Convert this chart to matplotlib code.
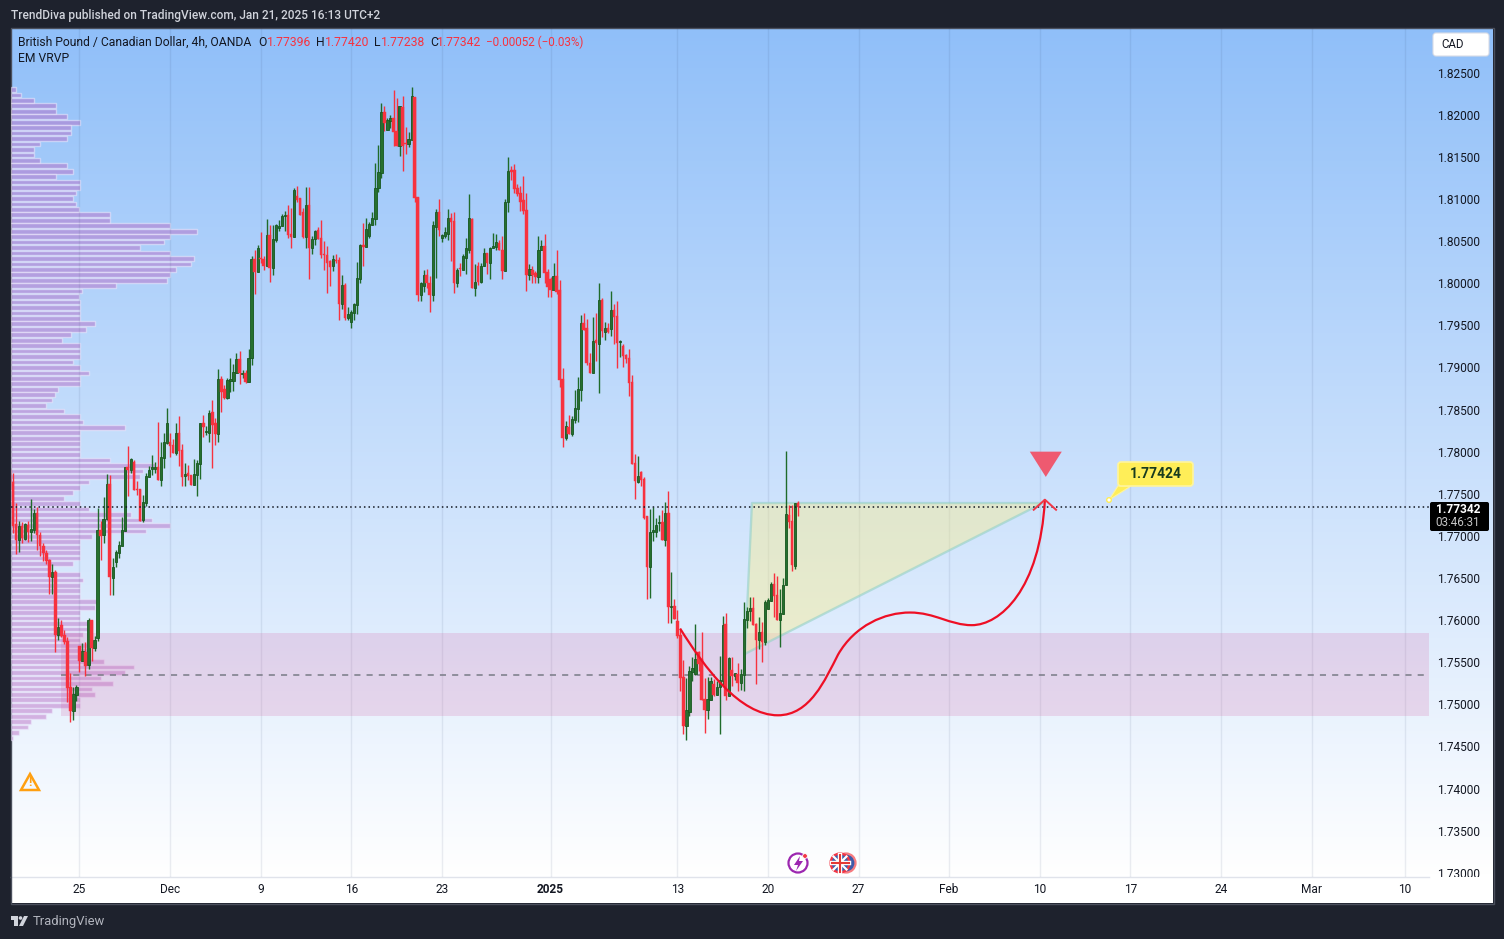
import numpy as np
import matplotlib
matplotlib.use('Agg')
import matplotlib.pyplot as plt
from matplotlib.patches import Rectangle, FancyBboxPatch, Polygon, PathPatch, Circle
from matplotlib.path import Path
from matplotlib.transforms import Bbox

plt.rcParams['font.family'] = ['Roboto', 'DejaVu Sans']

# OHLC of GBP/CAD 4h candles
opens = [
    1.7772,1.7764,1.7714,1.7695,1.7712,1.7696,1.7713,1.7705,1.7707,1.7727,
    1.7701,1.7688,1.7680,1.7671,1.7651,1.7657,1.7582,1.7594,1.7582,1.7575,
    1.7521,1.7492,1.7511,1.7569,1.7551,1.7562,1.7547,1.7600,1.7567,1.7579,
    1.7707,1.7701,1.7720,1.7762,1.7650,1.7669,1.7680,1.7688,1.7706,1.7782,
    1.7778,1.7788,1.7756,1.7756,1.7719,1.7739,1.7770,1.7779,1.7779,1.7782,
    1.7766,1.7792,1.7810,1.7811,1.7808,1.7798,1.7822,1.7802,1.7771,1.7775,
    1.7772,1.7760,1.7772,1.7785,1.7834,1.7823,1.7822,1.7847,1.7834,1.7821,
    1.7886,1.7874,1.7864,1.7884,1.7884,1.7893,1.7910,1.7892,1.7893,1.7883,
    1.7911,1.8029,1.8013,1.8030,1.8029,1.8021,1.8057,1.8018,1.8051,1.8065,
    1.8068,1.8080,1.8081,1.8058,1.8055,1.8103,1.8101,1.8084,1.8055,1.8093,
    1.8042,1.8052,1.8063,1.8054,1.8035,1.8033,1.8026,1.8021,1.8027,1.8027,
    1.7975,1.7998,1.7959,1.7954,1.7965,1.7974,1.8005,1.8045,1.8043,1.8056,
    1.8069,1.8076,1.8113,1.8131,1.8203,1.8182,1.8192,1.8196,1.8181,1.8163,
    1.8209,1.8166,1.8165,1.8170,1.8221,1.8102,1.7986,1.7997,1.8010,1.8000,
    1.7986,1.8067,1.8084,1.8054,1.8056,1.8059,1.8077,1.8074,1.8000,1.8018,
    1.8016,1.8030,1.8040,1.8076,1.7994,1.8020,1.8002,1.8020,1.8036,1.8024,
    1.8042,1.8043,1.8048,1.8039,1.8014,1.8097,1.8134,1.8134,1.8113,1.8107,
    1.8099,1.8087,1.8010,1.8016,1.8012,1.8007,1.8039,1.8044,1.8013,1.8005,
    1.7992,1.8008,1.7992,1.7886,1.7816,1.7829,1.7821,1.7838,1.7851,1.7873,
    1.7953,1.7947,1.7905,1.7893,1.7933,1.7928,1.7980,1.7942,1.7947,1.7946,
    1.7968,1.7961,1.7930,1.7925,1.7915,1.7911,1.7883,1.7787,1.7764,1.7776,
    1.7768,1.7724,1.7663,1.7705,1.7705,1.7715,1.7716,1.7695,1.7727,1.7616,
    1.7617,1.7599,1.7582,1.7533,1.7474,1.7491,1.7538,1.7536,1.7562,1.7554,
    1.7506,1.7493,1.7505,1.7524,1.7511,1.7520,1.7528,1.7595,1.7510,1.7541,
    1.7534,1.7536,1.7525,1.7535,1.7600,1.7611,1.7614,1.7595,1.7576,1.7586,
    1.7574,1.7613,1.7623,1.7643,1.7630,1.7600,1.7607,1.7642,1.7725,1.7718,
    1.7664,1.77396]
highs = [
    1.7779,1.7775,1.7739,1.7718,1.7717,1.7715,1.7718,1.7744,1.7732,1.7734,
    1.7705,1.7692,1.7683,1.7673,1.7667,1.7660,1.7603,1.7600,1.7588,1.7580,
    1.7537,1.7521,1.7523,1.7569,1.7573,1.7574,1.7603,1.7600,1.7581,1.7733,
    1.7718,1.7746,1.7773,1.7772,1.7674,1.7683,1.7694,1.7722,1.7782,1.7807,
    1.7792,1.7790,1.7765,1.7756,1.7748,1.7775,1.7783,1.7796,1.7788,1.7835,
    1.7812,1.7822,1.7852,1.7822,1.7815,1.7834,1.7842,1.7809,1.7787,1.7784,
    1.7772,1.7791,1.7790,1.7834,1.7843,1.7830,1.7849,1.7861,1.7840,1.7898,
    1.7890,1.7879,1.7887,1.7911,1.7904,1.7917,1.7919,1.7897,1.7897,1.7922,
    1.8032,1.8040,1.8045,1.8061,1.8032,1.8076,1.8069,1.8069,1.8070,1.8075,
    1.8082,1.8086,1.8093,1.8089,1.8113,1.8115,1.8101,1.8089,1.8114,1.8114,
    1.8056,1.8063,1.8067,1.8075,1.8050,1.8044,1.8027,1.8033,1.8035,1.8031,
    1.8010,1.8000,1.7972,1.7968,1.7976,1.8025,1.8046,1.8071,1.8077,1.8073,
    1.8084,1.8143,1.8164,1.8214,1.8210,1.8196,1.8200,1.8229,1.8220,1.8210,
    1.8222,1.8185,1.8179,1.8233,1.8221,1.8102,1.8001,1.8016,1.8017,1.8008,
    1.8074,1.8088,1.8100,1.8058,1.8067,1.8088,1.8083,1.8084,1.8018,1.8024,
    1.8035,1.8054,1.8106,1.8077,1.8023,1.8025,1.8024,1.8042,1.8036,1.8043,
    1.8060,1.8058,1.8051,1.8056,1.8100,1.8150,1.8139,1.8141,1.8118,1.8116,
    1.8127,1.8107,1.8023,1.8021,1.8014,1.8056,1.8051,1.8058,1.8017,1.8007,
    1.8024,1.8039,1.8004,1.7899,1.7836,1.7843,1.7842,1.7873,1.7889,1.7962,
    1.7965,1.7957,1.7917,1.7960,1.7965,1.8000,1.7982,1.7954,1.7953,1.7991,
    1.7975,1.7979,1.7933,1.7928,1.7916,1.7922,1.7891,1.7797,1.7795,1.7777,
    1.7770,1.7724,1.7732,1.7734,1.7721,1.7725,1.7731,1.7740,1.7753,1.7657,
    1.7625,1.7612,1.7589,1.7553,1.7531,1.7546,1.7556,1.7595,1.7563,1.7586,
    1.7531,1.7532,1.7532,1.7530,1.7528,1.7557,1.7605,1.7609,1.7556,1.7556,
    1.7537,1.7549,1.7542,1.7622,1.7616,1.7627,1.7627,1.7597,1.7604,1.7598,
    1.7624,1.7626,1.7645,1.7656,1.7652,1.7637,1.7650,1.7801,1.7737,1.7737,
    1.7739,1.77420]
lows = [
    1.7754,1.7703,1.7679,1.7681,1.7692,1.7695,1.7693,1.7694,1.7703,1.7683,
    1.7676,1.7670,1.7667,1.7631,1.7631,1.7562,1.7576,1.7580,1.7572,1.7503,
    1.7479,1.7481,1.7504,1.7538,1.7551,1.7534,1.7542,1.7551,1.7563,1.7575,
    1.7671,1.7692,1.7719,1.7630,1.7630,1.7663,1.7674,1.7688,1.7706,1.7747,
    1.7775,1.7754,1.7749,1.7718,1.7716,1.7735,1.7770,1.7772,1.7775,1.7766,
    1.7759,1.7781,1.7809,1.7794,1.7798,1.7796,1.7783,1.7759,1.7759,1.7766,
    1.7760,1.7760,1.7747,1.7768,1.7817,1.7820,1.7811,1.7781,1.7808,1.7811,
    1.7847,1.7862,1.7862,1.7871,1.7872,1.7893,1.7880,1.7887,1.7881,1.7883,
    1.7903,1.7987,1.8013,1.8024,1.8016,1.8021,1.8002,1.8010,1.8049,1.8062,
    1.8068,1.8062,1.8054,1.8042,1.8055,1.8097,1.8081,1.8054,1.8042,1.8005,
    1.8035,1.8045,1.8052,1.8030,1.8016,1.7988,1.7997,1.8014,1.8024,1.7956,
    1.7969,1.7956,1.7956,1.7947,1.7956,1.7963,1.8000,1.8020,1.8043,1.8054,
    1.8069,1.8069,1.8108,1.8125,1.8181,1.8182,1.8184,1.8163,1.8163,1.8151,
    1.8133,1.8153,1.8162,1.8170,1.8096,1.7979,1.7979,1.7989,1.7994,1.7966,
    1.7979,1.8006,1.8056,1.8049,1.8054,1.8051,1.8026,1.7988,1.7995,1.8008,
    1.8016,1.8011,1.8036,1.7994,1.7985,1.7998,1.8000,1.8020,1.8011,1.8005,
    1.8042,1.8039,1.8039,1.8005,1.8014,1.8084,1.8122,1.8107,1.8103,1.8086,
    1.8082,1.7991,1.8004,1.8000,1.8000,1.8000,1.8039,1.8000,1.7984,1.7984,
    1.7992,1.7987,1.7877,1.7806,1.7814,1.7821,1.7819,1.7834,1.7835,1.7860,
    1.7944,1.7903,1.7893,1.7893,1.7908,1.7870,1.7936,1.7933,1.7941,1.7937,
    1.7928,1.7899,1.7912,1.7900,1.7905,1.7866,1.7785,1.7744,1.7763,1.7759,
    1.7720,1.7625,1.7626,1.7694,1.7699,1.7706,1.7695,1.7688,1.7597,1.7597,
    1.7601,1.7579,1.7516,1.7465,1.7458,1.7486,1.7528,1.7535,1.7540,1.7505,
    1.7466,1.7483,1.7505,1.7510,1.7511,1.7465,1.7523,1.7505,1.7510,1.7522,
    1.7529,1.7516,1.7517,1.7516,1.7591,1.7599,1.7594,1.7524,1.7566,1.7550,
    1.7571,1.7613,1.7623,1.7604,1.7600,1.7568,1.7607,1.7642,1.7709,1.7658,
    1.7661,1.77238]
closes = [
    1.7764,1.7712,1.7695,1.7712,1.7697,1.7714,1.7705,1.7708,1.7727,1.7701,
    1.7688,1.7680,1.7670,1.7651,1.7657,1.7582,1.7592,1.7581,1.7574,1.7519,
    1.7492,1.7512,1.7521,1.7551,1.7563,1.7546,1.7600,1.7567,1.7576,1.7707,
    1.7700,1.7720,1.7762,1.7651,1.7663,1.7681,1.7689,1.7707,1.7782,1.7778,
    1.7791,1.7754,1.7754,1.7718,1.7740,1.7771,1.7778,1.7782,1.7782,1.7766,
    1.7794,1.7811,1.7834,1.7807,1.7798,1.7822,1.7801,1.7770,1.7773,1.7771,
    1.7760,1.7773,1.7786,1.7834,1.7829,1.7824,1.7846,1.7832,1.7821,1.7886,
    1.7871,1.7864,1.7885,1.7886,1.7895,1.7910,1.7893,1.7893,1.7883,1.7911,
    1.8029,1.8013,1.8042,1.8029,1.8021,1.8057,1.8018,1.8052,1.8069,1.8068,
    1.8080,1.8081,1.8057,1.8055,1.8111,1.8099,1.8081,1.8055,1.8093,1.8042,
    1.8052,1.8062,1.8052,1.8033,1.8033,1.8024,1.8019,1.8029,1.8026,1.7975,
    1.7998,1.7959,1.7963,1.7966,1.7975,1.8006,1.8045,1.8043,1.8064,1.8070,
    1.8077,1.8113,1.8132,1.8203,1.8190,1.8194,1.8196,1.8179,1.8163,1.8210,
    1.8163,1.8165,1.8171,1.8222,1.8101,1.7986,1.8000,1.8010,1.8000,1.7986,
    1.8069,1.8084,1.8063,1.8057,1.8061,1.8077,1.8073,1.8000,1.8016,1.8017,
    1.8032,1.8042,1.8077,1.7994,1.8002,1.8002,1.8021,1.8036,1.8024,1.8042,
    1.8044,1.8049,1.8039,1.8014,1.8097,1.8133,1.8132,1.8112,1.8106,1.8097,
    1.8086,1.8010,1.8017,1.8010,1.8007,1.8040,1.8044,1.8012,1.7995,1.7992,
    1.8008,1.7989,1.7885,1.7816,1.7830,1.7821,1.7839,1.7852,1.7874,1.7953,
    1.7944,1.7905,1.7893,1.7931,1.7929,1.7980,1.7943,1.7947,1.7942,1.7968,
    1.7960,1.7929,1.7931,1.7913,1.7910,1.7881,1.7785,1.7765,1.7771,1.7766,
    1.7721,1.7663,1.7705,1.7707,1.7713,1.7716,1.7695,1.7727,1.7616,1.7617,
    1.7601,1.7581,1.7531,1.7474,1.7493,1.7540,1.7543,1.7554,1.7548,1.7505,
    1.7493,1.7506,1.7528,1.7511,1.7521,1.7529,1.7594,1.7510,1.7555,1.7534,
    1.7537,1.7525,1.7536,1.7601,1.7611,1.7614,1.7594,1.7576,1.7586,1.7574,
    1.7622,1.7624,1.7643,1.7629,1.7600,1.7609,1.7642,1.7726,1.7716,1.7665,
    1.7739,1.77342]

# visible range volume profile, one value per price row, top row first
profile_top = 1.8230
profile_step = 0.000647
profile_volume = [
    5,10,23,45,45,56,69,60,60,56,29,23,23,29,56,62,45,69,69,65,
    62,65,68,99,99,159,186,159,153,129,159,183,180,165,159,156,105,71,68,
    69,69,69,69,84,75,60,51,69,69,69,62,69,78,69,69,47,44,41,35,53,69,72,114,
    69,69,69,69,69,99,144,132,129,78,69,62,53,69,78,120,141,159,135,81,69,69,
    69,69,62,40,69,72,69,69,69,86,84,69,69,78,81,72,69,78,78,78,93,123,114,90,
    102,81,84,69,69,41,35,20,17,8,2]

date_pos = [23, 53, 83, 113, 143, 179, 221, 251, 281, 311, 341, 371, 401, 431, 462]
date_labels = ['25', 'Dec', '9', '16', '23', '2025', '13', '20', '27', 'Feb', '10', '17', '24', 'Mar', '10']
price_ticks = [1.73, 1.735, 1.74, 1.745, 1.75, 1.755, 1.76, 1.765, 1.77, 1.775,
               1.78, 1.785, 1.79, 1.795, 1.80, 1.805, 1.81, 1.815, 1.82, 1.825]

last_price = 1.77342
zone_low, zone_high, zone_mid = 1.7486, 1.7585, 1.7535
zone_start = 16.9

# drawn annotations, in bar number and price
wedge_x = [243.4, 245.7, 342.0]
wedge_y = [1.7560, 1.7739, 1.7739]
curve_x = [221.9, 230.1, 241.7, 254.3, 264.9, 269.9, 274.2, 279.8, 289.7, 298.0,
           306.3, 311.3, 318.5, 327.8, 341.1, 342.7]
curve_y = [1.7590, 1.7543, 1.7487, 1.7487, 1.7487, 1.7529, 1.7559, 1.7594, 1.7609, 1.7609,
           1.7609, 1.7594, 1.7594, 1.7594, 1.7636, 1.7743]
arrow_x = [339.0, 342.7, 346.4]
arrow_y = [1.7731, 1.7743, 1.7731]
marker_x = [337.7, 348.3, 343.0]
marker_y = [1.7800, 1.7800, 1.7770]

RED = '#F7323F'
GREEN = '#1F6B2A'
DARK = '#1E222D'
W, H = 1504, 939

fig = plt.figure(figsize=(W / 100, H / 100), dpi=100, facecolor=DARK)

# page layer: frame, gradient and time scale strip (pixel coordinates)
bg = fig.add_axes([0, 0, 1, 1], zorder=0)
bg.set_xlim(0, W)
bg.set_ylim(H, 0)
bg.axis('off')
grad = np.linspace(0, 1, 256).reshape(-1, 1, 1)
top = np.array([0x90, 0xBF, 0xF9]) / 255
bottom = np.array([1.0, 1.0, 1.0])
bg.imshow(top + (bottom - top) * grad, extent=(11, 1493, 877, 28), aspect='auto', zorder=0)
bg.set_xlim(0, W)
bg.set_ylim(H, 0)
bg.add_patch(Rectangle((11, 877), 1482, 26, fc='white', ec='none', zorder=1))
bg.plot([11, 1429], [877, 877], color='#E0E3EB', lw=1, zorder=2)
bg.add_patch(Rectangle((10.5, 27.5), 1483, 876, fc='none', ec='#4A4F5C', lw=1, zorder=3))

# profile and zone sit under the candles on a twin sharing the price scale
ax = fig.add_axes([11 / W, 1 - 877 / H, 1418 / W, 849 / H], zorder=2)
ax.patch.set_alpha(0)
ax.set_xlim(0.33, 469.9)
ax.set_ylim(1.7295, 1.8303)

ax2 = fig.add_axes(ax.get_position(), zorder=1)
ax2.patch.set_alpha(0)
ax2.set_xlim(0, 1418)
ax2.set_ylim(ax.get_ylim())
ax2.axis('off')
levels = profile_top - profile_step * np.arange(len(profile_volume))
ax2.barh(levels, profile_volume, height=profile_step * 0.86, left=0,
         color=(0.72, 0.40, 0.76, 0.46), edgecolor=(0.93, 0.93, 1.0, 0.55), linewidth=1.0)

ax.axhspan(zone_low, zone_high, xmin=(zone_start - 0.33) / (469.9 - 0.33), color=(0.84, 0.42, 0.66, 0.21), lw=0, zorder=1)
ax.plot([zone_start, 469.9], [zone_mid, zone_mid], color='#787B86', lw=1.1, ls=(0, (4, 4)), zorder=2)

for d in date_pos:
    ax.axvline(d, color=(0.16, 0.23, 0.40, 0.09), lw=1, zorder=0)

ax.fill(wedge_x, wedge_y, facecolor=(0.98, 0.93, 0.55, 0.42), edgecolor='none', zorder=2)
ax.plot(wedge_x + wedge_x[:1], wedge_y + wedge_y[:1], color=(0.58, 0.82, 0.78, 0.6), lw=1.7, zorder=2)

# candles
bars = np.arange(len(opens))
o = np.array(opens)
h = np.array(highs)
l = np.array(lows)
c = np.array(closes)
up = c >= o
colors = np.where(up, GREEN, RED)
ax.vlines(bars, l, h, colors=colors, lw=1, zorder=3)
ax.bar(bars[up], np.maximum(c - o, 0.00012)[up], bottom=o[up], width=0.74,
       color='#26702F', edgecolor='#17571F', linewidth=0.6, zorder=4)
ax.bar(bars[~up], np.maximum(o - c, 0.00012)[~up], bottom=c[~up], width=0.85,
       color=RED, edgecolor=RED, linewidth=0.3, zorder=4)

ax.axhline(last_price, color='#131722', lw=1.1, ls=(0, (1, 2)), zorder=5)

# curved path
verts = list(zip(curve_x, curve_y))
codes = [Path.MOVETO] + [Path.CURVE4] * (len(verts) - 1)
ax.add_patch(PathPatch(Path(verts, codes), fc='none', ec='#EE0F25', lw=1.6, zorder=6))
ax.plot(arrow_x, arrow_y, color='#F23645', lw=1.4, zorder=6)
ax.fill(marker_x, marker_y, color='#EE5A70', lw=0, zorder=6)

# axes
ax.set_xticks(date_pos)
ax.set_xticklabels(date_labels)
ax.yaxis.tick_right()
ax.set_yticks(price_ticks)
ax.set_yticklabels(['%.5f' % p for p in price_ticks])
ax.tick_params(axis='x', length=0, labelsize=8.6, labelcolor='#131722', pad=4.5)
ax.tick_params(axis='y', length=0, labelsize=8.6, labelcolor='#131722', pad=6)
ax.get_xticklabels()[5].set_fontweight('bold')
for s in ax.spines.values():
    s.set_visible(False)
clip = Bbox([[1429, H - 877], [1490, H - 28]])
for lab in ax.get_yticklabels():
    lab.set_clip_box(clip)
    lab.set_clip_on(True)

# overlay for texts, callouts, icons
ov = fig.add_axes([0, 0, 1, 1], zorder=3)
ov.set_xlim(0, W)
ov.set_ylim(H, 0)
ov.axis('off')
ov.patch.set_alpha(0)

ov.text(11, 15, 'TrendDiva published on TradingView.com, Jan 21, 2025 16:13 UTC+2',
        color='#D1D4DC', fontsize=8.55, va='center', fontweight='medium')
ov.text(18, 42.5, 'British Pound / Canadian Dollar, 4h, OANDA', color='#131722', fontsize=8.7, va='center')
ov.text(18, 59, 'EM VRVP', color='#131722', fontsize=8.7, va='center')
for x, t, col, fs in [(258, 'O', '#131722', 8.7), (267, '1.77396', RED, 8.7), (316, 'H', '#131722', 8.7),
                      (325, '1.77420', RED, 8.7), (374, 'L', '#131722', 8.7), (381, '1.77238', RED, 8.7),
                      (430, 'C', '#131722', 8.7), (437, '1.77342', RED, 8.7),
                      (486, '\u22120.00052 (\u22120.03%)', RED, 8.35)]:
    ov.text(x, 42.5, t, color=col, fontsize=fs, va='center')

# currency button
ov.add_patch(FancyBboxPatch((1433, 33), 56, 23, boxstyle='round,pad=0,rounding_size=3',
                            fc='white', ec='#D8DCE6', lw=0.8))
ov.text(1441, 45, 'CAD', color='#131722', fontsize=8.3, va='center')

# last price label
ov.add_patch(FancyBboxPatch((1430, 502), 59, 29, boxstyle='round,pad=0,rounding_size=2',
                            fc='black', ec='none'))
ov.text(1458, 509.5, '1.77342', color='white', fontsize=8.6, fontweight='bold', ha='center', va='center')
ov.text(1458, 523, '03:46:31', color='#C8C8C8', fontsize=8.4, ha='center', va='center')

# price callout
ov.add_patch(Polygon([(1109, 500), (1118, 486), (1131, 486)], fc='#FFEE58', ec='#FFF59D', lw=0.8, zorder=5))
ov.add_patch(FancyBboxPatch((1118, 462), 75, 24, boxstyle='round,pad=0,rounding_size=3',
                            fc='#FFEE58', ec='#FFF59D', lw=1.2, zorder=5))
ov.add_patch(Circle((1109, 500), 2.3, fc='white', ec='#FFEE58', lw=1, zorder=6))
ov.text(1156, 474, '1.77424', color='#173B1E', fontsize=10, fontweight='bold', ha='center', va='center', zorder=7)

# warning icon
ov.add_patch(Polygon([(30, 774), (21, 790), (39, 790)], fc='none', ec='#FF9F10', lw=1.8, joinstyle='miter'))
ov.text(30, 783, '!', color='#FF9F10', fontsize=9, fontweight='bold', ha='center', va='center')

# event icons
ov.add_patch(Circle((798, 863), 9.5, fc='white', ec='#9C27B0', lw=1.6))
ov.add_patch(Polygon([(800, 856), (794, 865), (798, 865), (796, 871), (803, 861), (799, 861)], fc='#9C27B0', ec='none'))
ov.add_patch(Circle((805, 856), 2.4, fc='#F23645', ec='white', lw=0.6))
ov.add_patch(Circle((846, 863), 9.5, fc='#3D5BA9', ec='#F77C80', lw=1.6))
ov.add_patch(Circle((840, 863), 9.5, fc='#3D5BA9', ec='#F23645', lw=1.6))
ov.plot([833.5, 846.5], [856.5, 869.5], color='white', lw=1.6)
ov.plot([833.5, 846.5], [869.5, 856.5], color='white', lw=1.6)
ov.plot([831.5, 848.5], [863, 863], color='white', lw=3.2)
ov.plot([840, 840], [854.5, 871.5], color='white', lw=3.2)
ov.plot([831.5, 848.5], [863, 863], color='#E53935', lw=1.5)
ov.plot([840, 840], [854.5, 871.5], color='#E53935', lw=1.5)

# footer logo
ov.add_patch(Polygon([(11, 916), (18, 916), (18, 926), (14, 926), (14, 920), (11, 920)], fc='#D1D4DC', ec='none'))
ov.add_patch(Circle((20.5, 918), 1.8, fc='#D1D4DC', ec='none'))
ov.add_patch(Polygon([(24, 916), (28, 916), (23, 926), (19, 926)], fc='#D1D4DC', ec='none'))
ov.text(33, 921.5, 'TradingView', color='#B2B5BE', fontsize=9.4, va='center')

fig.savefig('out.png', dpi=100, facecolor=DARK)
